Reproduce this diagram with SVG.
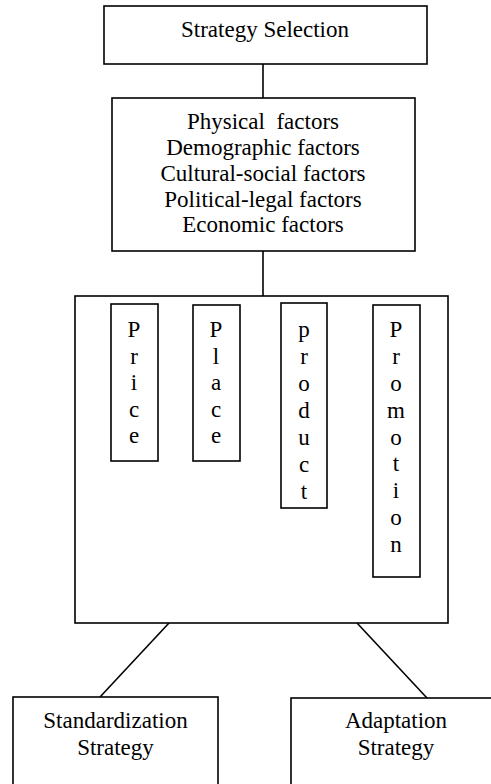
<svg xmlns="http://www.w3.org/2000/svg" width="491" height="784" viewBox="0 0 491 784">
<style>
.box{fill:#fff;stroke:#000;stroke-width:1.6}
.ln{stroke:#000;stroke-width:1.6;fill:none}
text{font-family:'Liberation Serif','DejaVu Serif',serif;font-size:23px;fill:#000;text-anchor:middle}
</style>
<rect width="491" height="784" fill="#fff"/>
<g id="connectors">
<line class="ln" x1="263" y1="64" x2="263" y2="98"/>
<line class="ln" x1="263" y1="251" x2="263" y2="296"/>
<line class="ln" x1="169" y1="623" x2="100" y2="697"/>
<line class="ln" x1="357" y1="623" x2="427" y2="698"/>
</g>
<g id="strategy-selection">
<rect class="box" x="104" y="6" width="323" height="58"/>
<text x="265" y="37">Strategy Selection</text>
</g>
<g id="factors">
<rect class="box" x="112" y="98" width="303" height="153"/>
<text x="263" y="129" xml:space="preserve">Physical  factors</text>
<text x="263" y="155">Demographic factors</text>
<text x="263" y="181">Cultural-social factors</text>
<text x="263" y="207">Political-legal factors</text>
<text x="263" y="232">Economic factors</text>
</g>
<g id="marketing-mix">
<rect class="box" x="75" y="296" width="373" height="327"/>
</g>
<g id="price">
<rect class="box" x="111" y="304" width="47" height="157"/>
<text x="134" y="337">P</text>
<text x="134" y="363.5">r</text>
<text x="134" y="390">i</text>
<text x="134" y="416.5">c</text>
<text x="134" y="443">e</text>
</g>
<g id="place">
<rect class="box" x="193" y="305" width="47" height="156"/>
<text x="216" y="337">P</text>
<text x="216" y="363.5">l</text>
<text x="216" y="390">a</text>
<text x="216" y="416.5">c</text>
<text x="216" y="443">e</text>
</g>
<g id="product">
<rect class="box" x="281" y="303" width="46" height="205"/>
<text x="304" y="337">p</text>
<text x="304" y="364">r</text>
<text x="304" y="391">o</text>
<text x="304" y="418">d</text>
<text x="304" y="445">u</text>
<text x="304" y="472">c</text>
<text x="304" y="499">t</text>
</g>
<g id="promotion">
<rect class="box" x="373" y="305" width="47" height="272"/>
<text x="396" y="337">P</text>
<text x="396" y="364">r</text>
<text x="396" y="391">o</text>
<text x="396" y="418">m</text>
<text x="396" y="445">o</text>
<text x="396" y="471">t</text>
<text x="396" y="498">i</text>
<text x="396" y="525">o</text>
<text x="396" y="552">n</text>
</g>
<g id="standardization">
<rect class="box" x="13" y="697" width="205" height="100"/>
<text x="115.5" y="728">Standardization</text>
<text x="115.5" y="755">Strategy</text>
</g>
<g id="adaptation">
<rect class="box" x="291" y="698" width="210" height="100"/>
<text x="396" y="728">Adaptation</text>
<text x="396" y="755">Strategy</text>
</g>
</svg>
